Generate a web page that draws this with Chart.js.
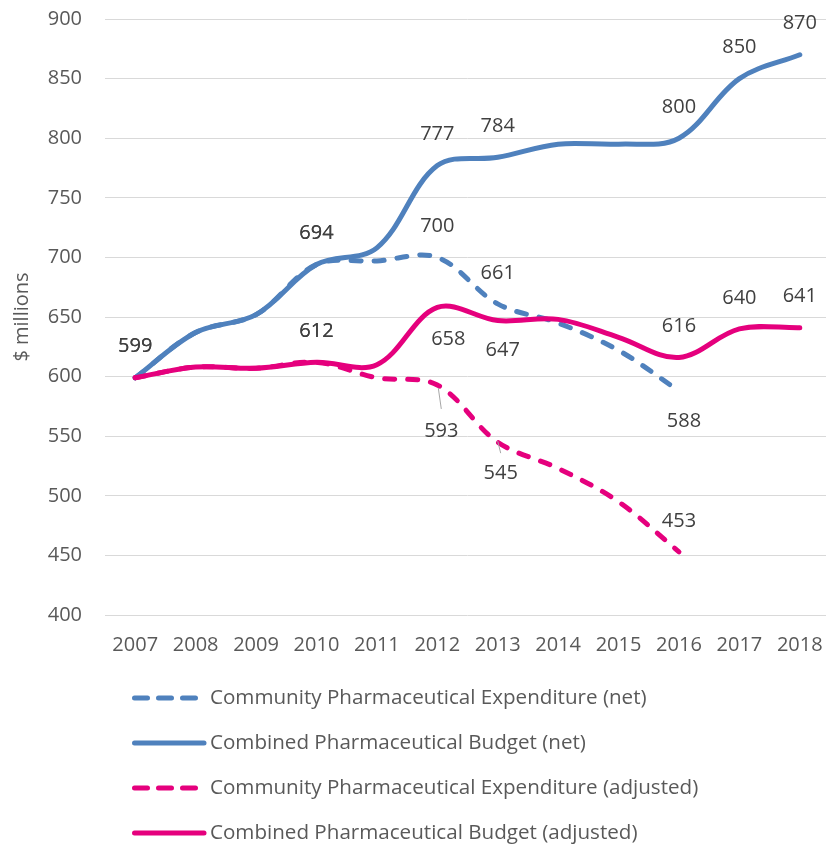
<!DOCTYPE html>
<html>
<head>
<meta charset="utf-8">
<script src="https://cdn.jsdelivr.net/npm/chart.js@4"></script>
<style>
  html, body { margin: 0; padding: 0; background: #ffffff; }
  #wrap { width: 826px; height: 848px; overflow: hidden; position: relative; }
  canvas { display: block; }
</style>
</head>
<body>
<div id="wrap"><canvas id="c" width="840" height="848" style="width:840px;height:848px"></canvas></div>
<script>
// ---- Data ----
const years = ['2007','2008','2009','2010','2011','2012','2013','2014','2015','2016','2017','2018'];
const seriesNames = [
  'Community Pharmaceutical Expenditure (net)',
  'Combined Pharmaceutical Budget (net)',
  'Community Pharmaceutical Expenditure (adjusted)',
  'Combined Pharmaceutical Budget (adjusted)'
];
const communityNet      = [599, 637, 652, 694, 697, 700, 661, 645, 622, 588, null, null];
const combinedNet       = [599, 637, 652, 694, 708, 777, 784, 795, 795, 800, 850, 870];
const communityAdjusted = [599, 608, 607, 612, 599, 593, 545, 523, 495, 453, null, null];
const combinedAdjusted  = [599, 608, 607, 612, 610, 658, 647, 648, 633, 616, 640, 641];
const yTicks = [400, 450, 500, 550, 600, 650, 700, 750, 800, 850, 900];

// which points carry a data label, and where (styling only)
const labelSpec = [
  { 3: 'above', 5: 'above', 6: 'above', 9: 'below' },
  { 0: 'above', 3: 'above', 5: 'above', 6: 'above', 9: 'above', 10: 'above', 11: 'above' },
  { 3: 'above', 5: 'leaderFar', 6: 'leader', 9: 'above' },
  { 0: 'above', 3: 'above', 5: 'belowR', 6: 'below', 9: 'above', 10: 'above', 11: 'above' }
];

const BLUE = '#4F81BD';
const PINK = '#E5007D';
const FONT = "'Open Sans', sans-serif";

const dataLabelPlugin = {
  id: 'dataLabels',
  afterDatasetsDraw(chart) {
    const ctx = chart.ctx;
    ctx.save();
    ctx.font = '20px ' + FONT;
    ctx.fillStyle = '#404040';
    ctx.textAlign = 'center';
    ctx.textBaseline = 'middle';
    chart.data.datasets.forEach((ds, di) => {
      const meta = chart.getDatasetMeta(di);
      const spec = labelSpec[di];
      Object.keys(spec).forEach(k => {
        const i = +k;
        const pt = meta.data[i];
        if (!pt || ds.data[i] == null) return;
        const pos = spec[k];
        let x = pt.x, y = pt.y;
        if (pos === 'above') { y -= 31; }
        else if (pos === 'below') { y += 30; x += 5; }
        else if (pos === 'belowR') { y += 32; x += 11; }
        else if (pos === 'leaderFar') {
          ctx.save(); ctx.strokeStyle = '#A6A6A6'; ctx.lineWidth = 1;
          ctx.beginPath(); ctx.moveTo(x + 1, y + 3); ctx.lineTo(x + 4, y + 24); ctx.stroke(); ctx.restore();
          y += 46; x += 4;
        } else if (pos === 'leader') {
          ctx.save(); ctx.strokeStyle = '#A6A6A6'; ctx.lineWidth = 1;
          ctx.beginPath(); ctx.moveTo(x, y - 1); ctx.lineTo(x + 3, y + 11); ctx.stroke(); ctx.restore();
          y += 31; x += 3;
        }
        ctx.fillText(String(ds.data[i]), x, y);
      });
    });
    ctx.restore();
  }
};

const legendPlugin = {
  id: 'customLegend',
  afterDraw(chart) {
    const ctx = chart.ctx;
    ctx.save();
    ctx.font = '20.6px ' + FONT;
    ctx.fillStyle = '#595959';
    ctx.textBaseline = 'middle';
    ctx.textAlign = 'left';
    chart.data.datasets.forEach((ds, di) => {
      const y = 698 + di * 45;
      const dashed = ds.borderDash && ds.borderDash.length;
      ctx.save();
      ctx.strokeStyle = ds.borderColor;
      ctx.lineWidth = ds.borderWidth;
      ctx.lineCap = 'round';
      ctx.setLineDash(dashed ? [13, 11] : []);
      ctx.beginPath();
      ctx.moveTo(134.5, y);
      ctx.lineTo(dashed ? 196.5 : 204, y);
      ctx.stroke();
      ctx.restore();
      ctx.fillText(ds.label, 210, y);
    });
    ctx.restore();
  }
};

function mk(label, data, color, dashed, order) {
  return {
    label, data,
    borderColor: color,
    backgroundColor: color,
    borderWidth: 5,
    borderDash: dashed ? [10, 13] : [],
    borderCapStyle: 'round',
    borderJoinStyle: 'round',
    pointRadius: 0,
    pointHoverRadius: 0,
    tension: 0.35,
    fill: false,
    spanGaps: false,
    order
  };
}

new Chart(document.getElementById('c'), {
  type: 'line',
  data: {
    labels: years,
    datasets: [
      mk(seriesNames[0], communityNet, BLUE, true, 4),
      mk(seriesNames[1], combinedNet, BLUE, false, 3),
      mk(seriesNames[2], communityAdjusted, PINK, true, 2),
      mk(seriesNames[3], combinedAdjusted, PINK, false, 1)
    ]
  },
  options: {
    responsive: false,
    animation: false,
    layout: { padding: { top: 19, right: 10, left: 0, bottom: 0 } },
    plugins: { legend: { display: false }, tooltip: { enabled: false } },
    scales: {
      x: {
        offset: true,
        grid: { display: false, drawTicks: false },
        border: { display: false },
        ticks: { color: '#595959', font: { family: FONT, size: 20 }, padding: 18, maxRotation: 0, autoSkip: false },
        afterFit(s) { s.height = 233; s.paddingLeft = 0; s.paddingRight = 0; }
      },
      y: {
        min: 400, max: 900,
        afterBuildTicks(s) { s.ticks = yTicks.map(v => ({ value: v })); },
        grid: { color: '#D9D9D9', lineWidth: 1, drawTicks: false },
        border: { display: false },
        ticks: { color: '#595959', font: { family: FONT, size: 20 }, padding: 23 },
        title: { display: true, text: '$ millions', color: '#595959', font: { family: FONT, size: 20 }, padding: { top: 10, bottom: 0 } },
        afterFit(s) { s.width = 105; s.paddingTop = 0; s.paddingBottom = 0; }
      }
    }
  },
  plugins: [dataLabelPlugin, legendPlugin]
});
</script>
</body>
</html>
